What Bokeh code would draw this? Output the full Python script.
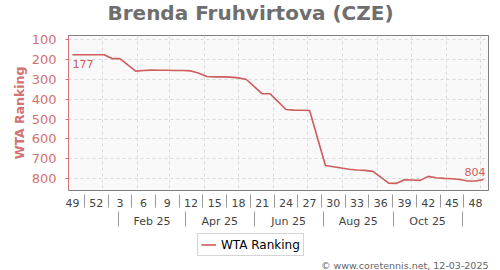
import pandas as pd
from bokeh.plotting import figure
from bokeh.layouts import column
from bokeh.models import (Range1d, FixedTicker, LinearAxis, Grid, Legend,
                          LegendItem, Label, ColumnDataSource)
from bokeh.core.properties import value
from bokeh.embed import file_html
from bokeh.resources import INLINE

# ---------------- data ----------------
week_index = [0, 1, 2, 3, 4, 5, 6, 7, 8, 9, 10, 11, 12, 13, 14, 15, 16, 17, 18,
              19, 20, 21, 22, 23, 24, 25, 26, 27, 28, 29, 30, 32, 33, 34, 35,
              36, 37, 38, 39, 40, 41, 42, 43, 44, 45, 46, 47, 48, 49, 50, 51, 52]
ranking = [177, 177, 177, 177, 177, 196, 196, 228, 259, 256, 254, 255, 255, 256,
           256, 258, 270, 286, 288, 288, 289, 293, 301, 337, 373, 373, 412, 452,
           455, 456, 457, 733, 740, 746, 752, 756, 758, 763, 792, 822, 823, 805,
           806, 808, 788, 795, 798, 800, 804, 811, 811, 804]
week_tick_index = [0, 3, 6, 9, 12, 15, 18, 21, 24, 27, 30, 33, 36, 39, 42, 45, 48, 51]
week_tick_labels = ["49", "52", "3", "6", "9", "12", "15", "18", "21", "24",
                    "27", "30", "33", "36", "39", "42", "45", "48"]
month_labels = ["Feb 25", "Apr 25", "Jun 25", "Aug 25", "Oct 25"]
month_separator_dates = ["2025-01-15", "2025-03-15", "2025-05-15",
                         "2025-07-15", "2025-09-15", "2025-11-15"]
first_week_date = "2024-12-05"
y_ticks = [100, 200, 300, 400, 500, 600, 700, 800]
title_text = "Brenda Fruhvirtova (CZE)"
series_name = "WTA Ranking"
credit_text = "© www.coretennis.net, 12-03-2025"

# ---------------- helpers ----------------
origin = pd.Timestamp(first_week_date)


def date_pos(d):
    return (pd.Timestamp(d) - origin).days / 7.0


month_grid = [date_pos(d) for d in pd.date_range("2025-01-01", "2025-12-01", freq="MS")]
month_seps = [date_pos(d) for d in month_separator_dates]
month_centers = [(a + b) / 2 for a, b in zip(month_seps[:-1], month_seps[1:])]
week_seps = [(a + b) / 2 for a, b in zip(week_tick_index[:-1], week_tick_index[1:])]

RED = "#cd5c5c"
LABEL_RED = "#d27272"
FONT = "DejaVu Sans"
W, H = 500, 270
LEFT, RIGHT = 68, 12
TOP_H, FOOT_H = 30, 40
MAIN_TOP = 5


def blank_figure(height, y0, y1):
    f = figure(width=W, height=height, output_backend="svg", toolbar_location=None,
               x_range=Range1d(LEFT, W - RIGHT), y_range=Range1d(y0, y1),
               x_axis_type=None, y_axis_type=None,
               min_border_left=LEFT, min_border_right=RIGHT,
               min_border_top=0, min_border_bottom=0,
               outline_line_color=None,
               background_fill_color="white", border_fill_color="white")
    f.xgrid.visible = False
    f.ygrid.visible = False
    return f


# ---------------- header (title) ----------------
h = blank_figure(TOP_H, TOP_H, 0)
h.add_layout(Label(x=W / 2 - LEFT, y=18, x_units="screen", y_units="screen",
                   text=title_text, text_font=FONT,
                   text_font_size="20px", text_font_style="bold",
                   text_color="#6e6e6e", text_align="center",
                   text_baseline="alphabetic"))

# ---------------- main plot ----------------
p = figure(width=W, height=H - TOP_H - FOOT_H, output_backend="svg",
           toolbar_location=None,
           x_range=Range1d(-0.5, 52.63), y_range=Range1d(859, 80),
           x_axis_type=None, y_axis_type=None,
           min_border_left=LEFT, min_border_right=RIGHT, min_border_top=MAIN_TOP,
           min_border_bottom=40,
           background_fill_color="#f9f9f9", border_fill_color="white",
           outline_line_color="#808080", outline_line_width=1)

yax = LinearAxis(ticker=FixedTicker(ticks=y_ticks), axis_label=series_name)
yax.axis_line_color = LABEL_RED
yax.major_tick_line_color = LABEL_RED
yax.major_tick_out = 3
yax.major_tick_in = 0
yax.minor_tick_line_color = None
yax.major_label_standoff = 9
yax.major_label_text_color = LABEL_RED
yax.major_label_text_font = FONT
yax.major_label_text_font_size = "13px"
yax.axis_label_text_color = LABEL_RED
yax.axis_label_text_font = FONT
yax.axis_label_text_font_size = "12.5px"
yax.axis_label_text_font_style = "bold"
yax.axis_label_standoff = 2
p.add_layout(yax, "left")

xw = LinearAxis(ticker=FixedTicker(ticks=week_tick_index, minor_ticks=week_seps))
xw.major_label_overrides = {t: l for t, l in zip(week_tick_index, week_tick_labels)}
xw.axis_line_color = None
xw.major_tick_line_color = None
xw.major_tick_out = 0
xw.major_tick_in = 0
xw.minor_tick_line_color = "#999999"
xw.minor_tick_in = -4
xw.minor_tick_out = 17
xw.major_label_standoff = -9
xw.major_label_text_font = FONT
xw.major_label_text_font_size = "11px"
xw.major_label_text_color = "#444444"
p.add_layout(xw, "below")

xm = LinearAxis(ticker=FixedTicker(ticks=month_centers, minor_ticks=month_seps))
xm.major_label_overrides = {t: l for t, l in zip(month_centers, month_labels)}
xm.axis_line_color = None
xm.major_tick_line_color = None
xm.major_tick_out = 0
xm.major_tick_in = 0
xm.minor_tick_line_color = "#999999"
xm.minor_tick_in = -2
xm.minor_tick_out = 17
xm.major_label_standoff = -12
xm.major_label_text_font = FONT
xm.major_label_text_font_size = "11px"
xm.major_label_text_color = "#444444"
p.add_layout(xm, "below")

p.add_layout(Grid(dimension=0, ticker=FixedTicker(ticks=month_grid),
                  grid_line_color="#d9d9d9", grid_line_dash="3 3"))
p.add_layout(Grid(dimension=1, ticker=FixedTicker(ticks=y_ticks),
                  grid_line_color="#d9d9d9", grid_line_dash="3 3"))

src = ColumnDataSource(data=dict(x=week_index, y=ranking))
r = p.line("x", "y", source=src, line_color=RED, line_width=1.6)

p.text(x=[week_index[0]], y=[ranking[0]], text=[str(ranking[0])],
       text_font=value(FONT), text_font_size="11px", text_color=RED,
       text_align="left", text_baseline="top", x_offset=0, y_offset=5)
p.text(x=[week_index[-1]], y=[ranking[-1]], text=[str(ranking[-1])],
       text_font=value(FONT), text_font_size="11px", text_color=RED,
       text_align="right", text_baseline="bottom", x_offset=2, y_offset=-4)

# ---------------- footer (legend + credit) ----------------
f = blank_figure(FOOT_H, H, H - FOOT_H)
# same series, drawn with this footer's ranges (falls outside its view) so the legend has a real renderer
legend_line = f.line("x", "y", source=src, line_color=RED, line_width=1.6)

legend = Legend(items=[LegendItem(label=series_name, renderers=[legend_line])],
                location=(129, 14), orientation="horizontal")
legend.label_text_font = FONT
legend.label_text_font_size = "12px"
legend.label_text_color = "#000000"
legend.border_line_color = "#aaaaaa"
legend.background_fill_color = "white"
legend.background_fill_alpha = 1.0
legend.padding = 3
legend.margin = 0
legend.glyph_width = 15
legend.glyph_height = 15
legend.label_standoff = 5
f.add_layout(legend, "center")

f.add_layout(Label(x=W - RIGHT - LEFT, y=5, x_units="screen", y_units="screen",
                   text=credit_text,
                   text_font=FONT, text_font_size="9.5px",
                   text_color="#666666", text_align="right",
                   text_baseline="alphabetic"))

layout = column(h, p, f, spacing=0)
open("out.html", "w").write(file_html(layout, INLINE))
